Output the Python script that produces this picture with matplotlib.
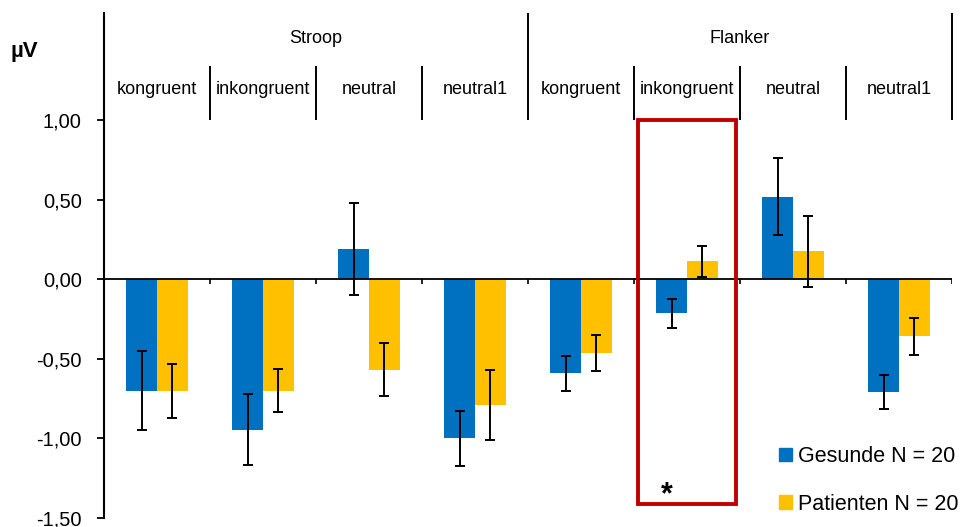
import numpy as np
import matplotlib.pyplot as plt
from matplotlib.patches import Patch, Rectangle

plt.rcParams['font.family'] = ['Liberation Sans', 'DejaVu Sans']

# Daten
bedingungen = ["kongruent", "inkongruent", "neutral", "neutral1",
               "kongruent", "inkongruent", "neutral", "neutral1"]
aufgaben = ["Stroop", "Flanker"]
gesunde = [-0.70, -0.945, 0.19, -1.00, -0.59, -0.214, 0.52, -0.71]
gesunde_err = [0.25, 0.225, 0.29, 0.175, 0.11, 0.09, 0.245, 0.107]
patienten = [-0.70, -0.70, -0.567, -0.79, -0.465, 0.113, 0.176, -0.358]
patienten_err = [0.17, 0.135, 0.168, 0.22, 0.112, 0.097, 0.223, 0.117]
yticks = [1.0, 0.5, 0.0, -0.5, -1.0, -1.5]
yticklabels = ["1,00", "0,50", "0,00", "-0,50", "-1,00", "-1,50"]

blau = "#0070C0"
gelb = "#FFC000"
rot = "#C00000"

fig = plt.figure(figsize=(9.66, 5.27), dpi=100)
ax = fig.add_axes([104/966, 1 - 518/527, 848/966, 505/527])

x = np.arange(len(bedingungen)) + 0.5
w = 0.29
ax.bar(x - w/2, gesunde, w, color=blau, zorder=2)
ax.bar(x + w/2, patienten, w, color=gelb, zorder=2)
ax.errorbar(x - w/2, gesunde, yerr=gesunde_err, fmt='none', ecolor='black',
            elinewidth=1.4, capsize=3.5, capthick=1.4, zorder=3)
ax.errorbar(x + w/2, patienten, yerr=patienten_err, fmt='none', ecolor='black',
            elinewidth=1.4, capsize=3.5, capthick=1.4, zorder=3)

ax.set_xlim(0, 8)
ax.set_ylim(-1.5, 1.673)

# Nulllinie und kleine Striche
ax.axhline(0, color='black', lw=1.3, zorder=4)
ax.vlines(np.arange(1, 9), -0.03, 0, color='black', lw=1.2, zorder=4)

# Kopfbereich mit Beschriftungen
ax.vlines([1, 2, 3, 5, 6, 7], 1.0, 1.34, color='black', lw=1.4, clip_on=False)
ax.vlines([4, 8], 1.0, 1.673, color='black', lw=1.4, clip_on=False)
for xi, lab in zip(x, bedingungen):
    ax.text(xi, 1.19, lab, ha='center', va='center', fontsize=13)
ax.text(2, 1.515, aufgaben[0], ha='center', va='center', fontsize=13)
ax.text(6, 1.515, aufgaben[1], ha='center', va='center', fontsize=13)
fig.text(10/966, 1 - 51/527, "µV", fontsize=16, fontweight='bold', va='center')

# Markierung
ax.add_patch(Rectangle((5.04, -1.41), 0.92, 2.41, fill=False, edgecolor=rot,
                       lw=2.8, zorder=5))
ax.text(5.31, -1.36, "*", fontsize=22, fontweight='bold', ha='center', va='center')

ax.spines[['top', 'right', 'bottom']].set_visible(False)
ax.spines['left'].set_linewidth(1.5)
ax.set_xticks([])
ax.set_yticks(yticks)
ax.set_yticklabels(yticklabels, fontsize=14.5)
ax.tick_params(axis='y', length=5, width=1.3, pad=11)

handles = [Patch(color=blau), Patch(color=gelb)]
fig.legend(handles, ["Gesunde N = 20", "Patienten N = 20"], loc='upper left',
           bbox_to_anchor=(779/966, 1 - 446/527), frameon=False, fontsize=15.5,
           handlelength=0.6, handleheight=0.6, handletextpad=0.3,
           labelspacing=1.25, borderpad=0, borderaxespad=0)

fig.savefig("out.png", dpi=100)
